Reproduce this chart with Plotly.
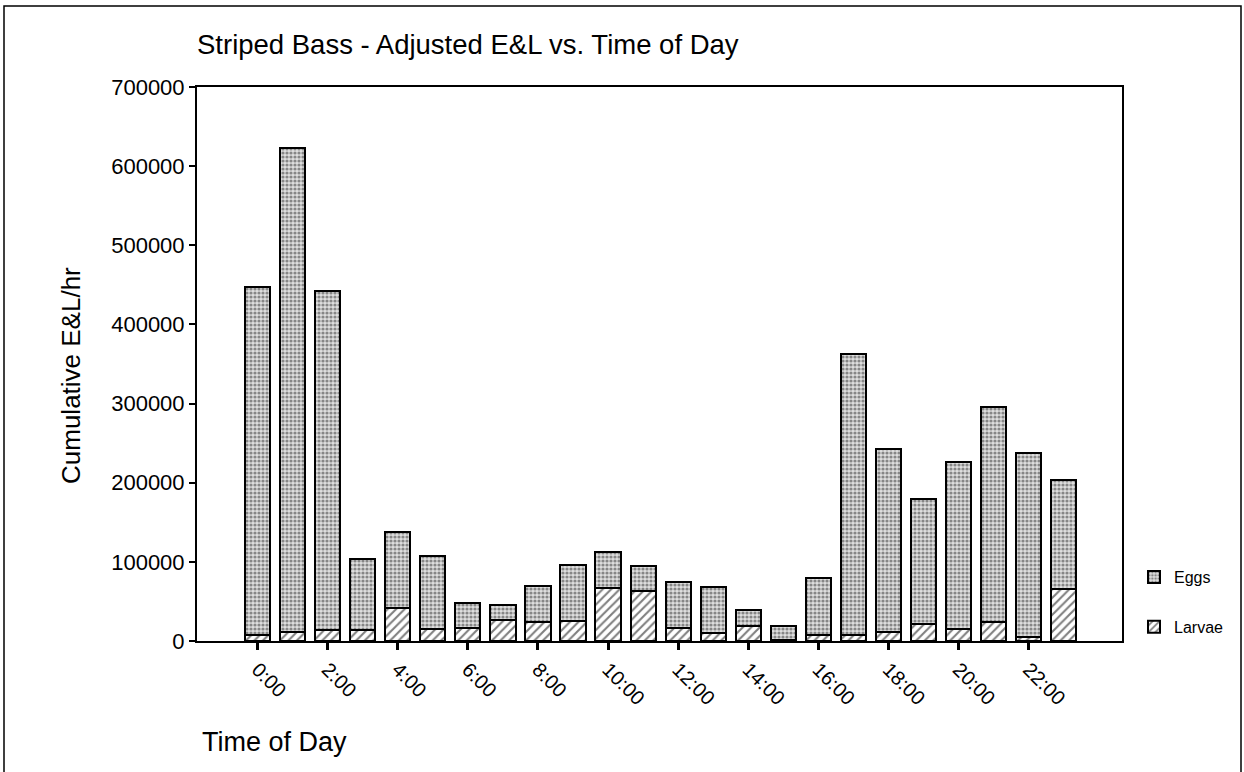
import plotly.graph_objects as go

# values
hours = list(range(24))
tick_hours = [0, 2, 4, 6, 8, 10, 12, 14, 16, 18, 20, 22]
tick_labels = ["0:00", "2:00", "4:00", "6:00", "8:00", "10:00",
               "12:00", "14:00", "16:00", "18:00", "20:00", "22:00"]
larvae = [8000, 11500, 14500, 14500, 42000, 15000, 16500, 26000,
          24000, 25500, 66500, 63000, 16000, 10000, 19000, 1500,
          7000, 7000, 12000, 21000, 15000, 23500, 5500, 65500]
eggs = [439000, 611500, 427500, 88500, 96000, 93000, 32000, 19000,
        46000, 70500, 46000, 31500, 58500, 58500, 20500, 18000,
        72500, 356000, 231000, 158000, 211000, 272000, 232500, 137500]

W, H = 1244, 772
L, R, T, B = 197, 1122, 87, 641   # plot area in pixels
FONT = "Liberation Sans, Arial, sans-serif"


def px_x(x):
    return (x - L) / (R - L)


def px_y(y):
    return (B - y) / (B - T)


fig = go.Figure()
fig.add_trace(go.Bar(
    x=hours, y=larvae, name="Larvae", legendgroup="l", legendrank=2,
    marker=dict(color="white", line=dict(color="black", width=2),
                pattern=dict(shape="/", fgcolor="black", bgcolor="white",
                             size=6, solidity=0.35)),
    width=0.72,
))
fig.add_trace(go.Bar(
    x=hours, y=eggs, name="Eggs", legendgroup="e", legendrank=1,
    marker=dict(color="#c0c0c0", line=dict(color="black", width=2),
                pattern=dict(shape=".", fgcolor="#2e2e2e", bgcolor="#dedede",
                             size=4, solidity=0.5)),
    width=0.72,
))

fig.update_layout(
    width=W, height=H,
    margin=dict(l=L, r=W - R, t=T, b=H - B),
    barmode="stack",
    plot_bgcolor="white", paper_bgcolor="white",
    font=dict(family=FONT, color="black"),
    title=dict(text="Striped Bass - Adjusted E&L vs. Time of Day",
               x=L / W, xanchor="left", xref="container",
               y=1 - 44 / H, yanchor="middle", yref="container",
               font=dict(size=27.5, color="black")),
    showlegend=True,
    legend=dict(x=px_x(1134), y=px_y(560), xanchor="left", yanchor="top",
                traceorder="grouped", tracegroupgap=26,
                font=dict(size=16), bgcolor="rgba(0,0,0,0)"),
)

fig.update_xaxes(
    range=[-1.726, 24.66],
    tickmode="array", tickvals=tick_hours, ticktext=tick_labels,
    tickangle=45, tickfont=dict(size=20),
    ticks="outside", ticklen=7, tickwidth=3, tickcolor="black",
    showline=True, linecolor="black", linewidth=2, mirror=True,
    showgrid=False, zeroline=False,
)
fig.update_yaxes(
    range=[0, 700000], dtick=100000, tickformat="d",
    tickfont=dict(size=22),
    ticks="outside", ticklen=6, tickwidth=2, tickcolor="black",
    showline=True, linecolor="black", linewidth=2, mirror=True,
    showgrid=False, zeroline=False,
)

# axis titles placed like the original
fig.add_annotation(text="Time of Day", xref="paper", yref="paper",
                   x=px_x(200), y=px_y(742), xanchor="left", yanchor="middle",
                   showarrow=False, font=dict(size=27))
fig.add_annotation(text="Cumulative E&L/hr", xref="paper", yref="paper",
                   x=px_x(71), y=px_y(376), xanchor="center", yanchor="middle",
                   textangle=-90, showarrow=False, font=dict(size=26))

# outer frame of the scanned page
fig.add_shape(type="rect", xref="paper", yref="paper",
              x0=px_x(4), x1=px_x(1241), y0=px_y(800), y1=px_y(6),
              line=dict(color="black", width=1.5), layer="below")

# drop the default page margin so the figure sits at the window origin
fig.write_html("out.html", config={"displayModeBar": False},
               post_script="document.body.style.margin='0';")
